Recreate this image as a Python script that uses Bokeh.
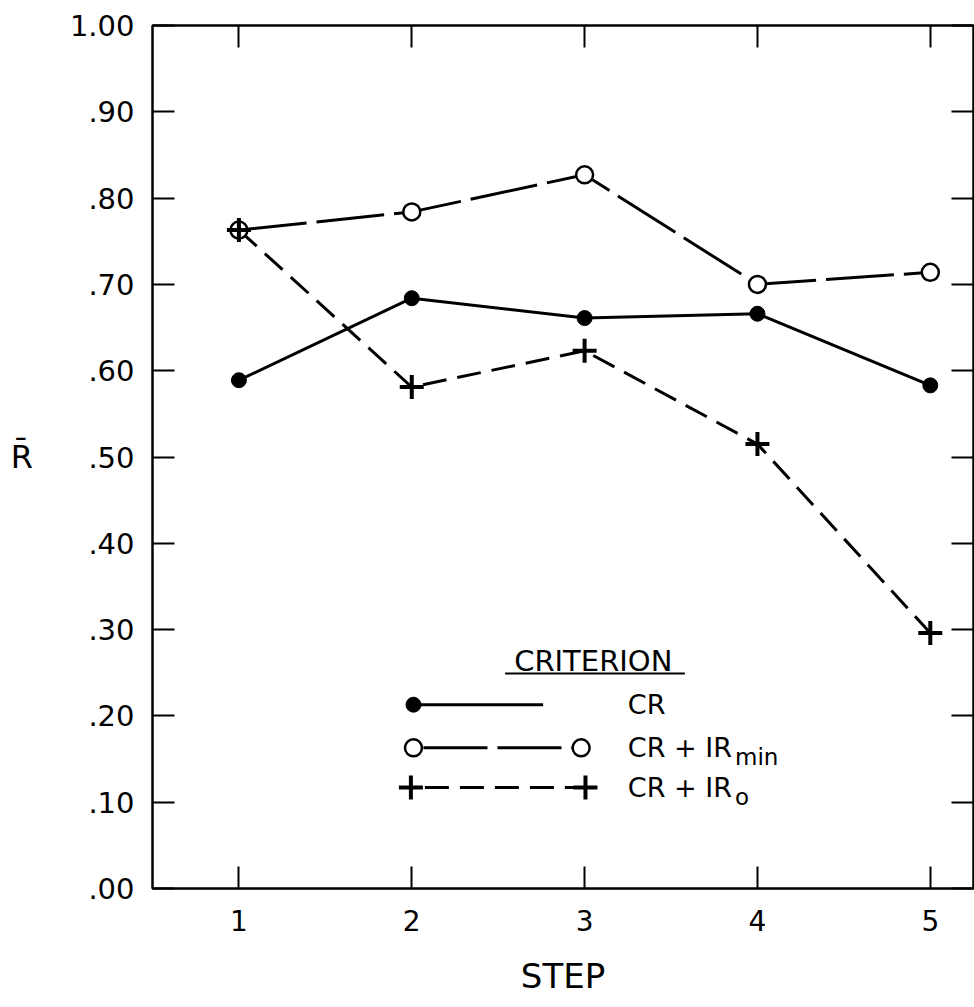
from bokeh.plotting import figure
from bokeh.models import Range1d, LinearAxis, FixedTicker, CustomJSTickFormatter
from bokeh.core.properties import value
from bokeh.embed import file_html
from bokeh.resources import INLINE

# Mean R per step for each criterion
steps = [1, 2, 3, 4, 5]
r_cr = [0.589, 0.684, 0.661, 0.666, 0.583]
r_cr_irmin = [0.763, 0.784, 0.827, 0.700, 0.714]
r_cr_iro = [0.763, 0.581, 0.623, 0.515, 0.296]

y_ticks = [0.0, 0.1, 0.2, 0.3, 0.4, 0.5, 0.6, 0.7, 0.8, 0.9, 1.0]
y_tick_labels = [".00", ".10", ".20", ".30", ".40", ".50", ".60", ".70", ".80", ".90", "1.00"]
x_tick_labels = ["1", "2", "3", "4", "5"]

FONT = "DejaVu Sans"
INK = "black"

p = figure(width=974, height=1007, output_backend="svg", toolbar_location=None,
           x_range=Range1d(0.5, 5.25), y_range=Range1d(0.0, 1.0),
           min_border_left=152, min_border_top=25, min_border_bottom=119,
           min_border_right=1)
p.grid.visible = False
p.outline_line_color = INK
p.outline_line_width = 2
p.background_fill_color = "white"
p.border_fill_color = "white"

# Left axis
ya = p.yaxis[0]
ya.ticker = FixedTicker(ticks=y_ticks)
ya.major_label_overrides = dict(zip(y_ticks, y_tick_labels))
ya.major_tick_in = 22
ya.major_tick_out = 0
ya.minor_tick_in = 0
ya.minor_tick_out = 0
ya.major_tick_line_width = 2
ya.axis_line_width = 2
ya.major_label_standoff = 18
ya.major_label_text_font = FONT
ya.major_label_text_font_size = "29px"
ya.major_label_text_color = INK
ya.axis_label = "R\u0304"
ya.axis_label_orientation = "horizontal"
ya.axis_label_text_font = FONT
ya.axis_label_text_font_size = "32px"
ya.axis_label_text_font_style = "normal"
ya.axis_label_text_color = INK
ya.axis_label_standoff = 34

# Bottom axis
xa = p.xaxis[0]
xa.ticker = FixedTicker(ticks=steps)
xa.major_label_overrides = dict(zip(steps, x_tick_labels))
xa.major_tick_in = 22
xa.major_tick_out = 0
xa.minor_tick_in = 0
xa.minor_tick_out = 0
xa.major_tick_line_width = 2
xa.axis_line_width = 2
xa.major_label_standoff = 21
xa.major_label_text_font = FONT
xa.major_label_text_font_size = "28px"
xa.major_label_text_color = INK
xa.axis_label = "STEP"
xa.axis_label_text_font = FONT
xa.axis_label_text_font_size = "34px"
xa.axis_label_text_font_style = "normal"
xa.axis_label_text_color = INK
xa.axis_label_standoff = 22

# Right and top frame ticks, no labels
blank = CustomJSTickFormatter(code="return ''")
ra = LinearAxis(ticker=FixedTicker(ticks=y_ticks), formatter=blank,
                major_tick_in=22, major_tick_out=0, minor_tick_in=0, minor_tick_out=0,
                major_tick_line_width=2, axis_line_width=2, major_label_standoff=0)
p.add_layout(ra, "right")
ta = LinearAxis(ticker=FixedTicker(ticks=steps), formatter=blank,
                major_tick_in=22, major_tick_out=0, minor_tick_in=0, minor_tick_out=0,
                major_tick_line_width=2, axis_line_width=2, major_label_standoff=0)
p.add_layout(ta, "above")

# Series lines
p.line(steps, r_cr, line_color=INK, line_width=3)
p.line(steps, r_cr_irmin, line_color=INK, line_width=3, line_dash="68 10")
p.line(steps, r_cr_iro, line_color=INK, line_width=3, line_dash="24 11")

# Series markers
p.scatter(steps, r_cr, marker="circle", size=15, fill_color=INK, line_color=INK)
p.scatter(steps, r_cr_irmin, marker="circle", size=17, fill_color="white",
          line_color=INK, line_width=2.5)
p.scatter(steps, r_cr_iro, marker="cross", size=24, line_color=INK, line_width=4)

# Legend block
p.text(x=[3.05], y=[0.264], text=["CRITERION"], text_font=value(FONT),
       text_font_size="29px", text_align="center", text_baseline="middle", text_color=INK)
p.segment(x0=[2.54], y0=[0.249], x1=[3.58], y1=[0.249], line_color=INK, line_width=2)

leg_y = [0.213, 0.163, 0.117]
p.line([2.01, 2.76], [leg_y[0]] * 2, line_color=INK, line_width=3)
p.scatter([2.01], [leg_y[0]], marker="circle", size=15, fill_color=INK, line_color=INK)

p.line([2.01, 2.98], [leg_y[1]] * 2, line_color=INK, line_width=3, line_dash="64 10",
       line_dash_offset=-10)
p.scatter([2.01, 2.98], [leg_y[1]] * 2, marker="circle", size=17, fill_color="white",
          line_color=INK, line_width=2.5)

p.line([1.995, 3.005], [leg_y[2]] * 2, line_color=INK, line_width=3, line_dash="24 11",
       line_dash_offset=-14)
p.scatter([1.995, 3.005], [leg_y[2]] * 2, marker="cross", size=24, line_color=INK,
          line_width=4)

p.text(x=[3.25] * 3, y=leg_y, text=["CR", "CR + IR", "CR + IR"], text_font=value(FONT),
       text_font_size="27px", text_align="left", text_baseline="middle", text_color=INK)
p.text(x=[3.87, 3.87], y=[leg_y[1], leg_y[2]], text=["min", "o"], text_font=value(FONT),
       text_font_size="23px", text_align="left",
       text_baseline="middle", y_offset=9, text_color=INK)

open("out.html", "w").write(file_html(p, INLINE))
